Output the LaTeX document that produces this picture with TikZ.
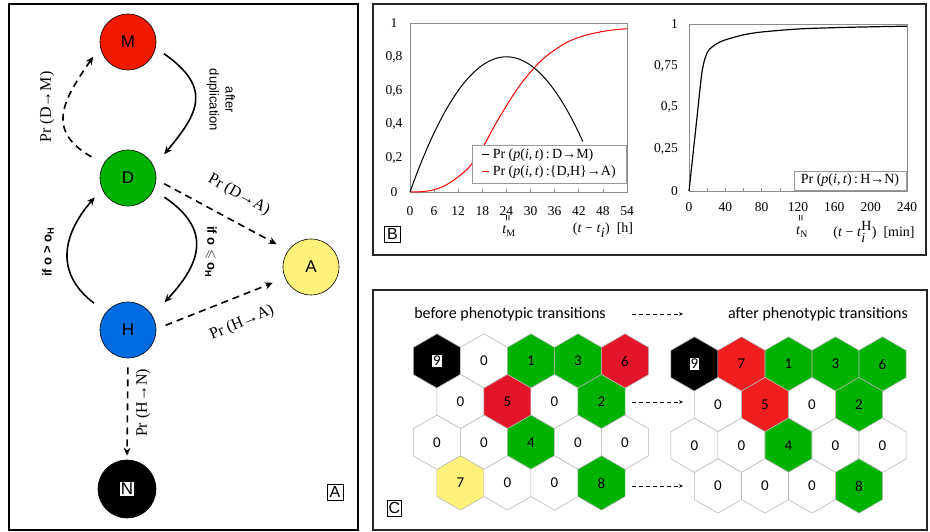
\documentclass[tikz,border=0pt]{standalone}
\usepackage{amssymb}
\usepackage{fontspec}
\setmainfont{Liberation Serif}
\newfontfamily\calib{Carlito}
\newfontfamily\arial{Liberation Sans}
\usetikzlibrary{arrows.meta}
\definecolor{mred}{RGB}{240,26,0}
\definecolor{dgreen}{RGB}{0,178,0}
\definecolor{hblue}{RGB}{0,108,224}
\definecolor{ayell}{RGB}{255,242,122}
\definecolor{credl}{RGB}{226,22,40}
\definecolor{credr}{RGB}{240,30,30}
\definecolor{hexgray}{RGB}{185,185,185}

\begin{document}
\begin{tikzpicture}[x=1pt,y=1pt,>={Stealth[length=8pt,width=7pt]},
  cell/.style={circle,draw,line width=0.6pt,minimum size=56pt,inner sep=0pt,font=\arial\fontsize{17}{19}\selectfont},
  solidarr/.style={->,line width=1.6pt},
  dasharr/.style={->,line width=1.6pt,dash pattern=on 7pt off 5pt},
  prlbl/.style={font=\fontsize{16}{18}\selectfont},
  condlbl/.style={font=\arial\bfseries\fontsize{13}{15}\selectfont},
  duplbl/.style={font=\arial\fontsize{13}{16}\selectfont,align=center},
  panel/.style={draw=black!85,line width=1.4pt},
  tag/.style={draw,line width=0.6pt,fill=white,inner sep=2.5pt,font=\arial\fontsize{16}{18}\selectfont},
  tick/.style={font=\fontsize{13.5}{15}\selectfont,inner sep=1pt},
  axlbl/.style={font=\fontsize{14}{16}\selectfont,inner sep=1pt},
  eqmark/.style={rotate=90,font=\bfseries\fontsize{12}{12}\selectfont,inner sep=0pt},
  legbox/.style={draw=black!40,line width=0.6pt,fill=white,inner sep=2pt,align=left,font=\fontsize{14}{17}\selectfont},
  hexline/.style={draw=hexgray,line width=0.6pt},
  num/.style={font=\calib\fontsize{15}{17}\selectfont,inner sep=1pt},
  numbox/.style={num,fill=white},
  ctext/.style={font=\calib\fontsize{16}{18}\selectfont},
  smallarr/.style={-{Stealth[length=4pt,width=3.5pt]},line width=0.8pt,dash pattern=on 4pt off 3pt}]
\useasboundingbox (0,0) rectangle (930,532);

% panel A
\draw[draw=black,line width=1.2pt] (9,2) rectangle (358,528);
\node[cell,fill=mred] (M) at (128,490) {M};
\node[cell,fill=dgreen] (D) at (128,354) {D};
\node[cell,fill=hblue] (H) at (128,202) {H};
\node[cell,fill=ayell] (A) at (311,265) {A};
\node[cell,fill=black,minimum size=58pt] (N) at (127,43) {\setlength{\fboxsep}{1pt}\colorbox{white}{N}};
\node[tag] (tagA) at (335,40) {A};

\draw[solidarr,shorten <=10pt,shorten >=16pt] (M.-12) to[out=-35,in=50,looseness=1.5] (D.24);
\draw[dasharr,shorten <=14pt,shorten >=12pt] (D.150) to[out=150,in=235,looseness=1.45] (M.190);
\draw[solidarr,shorten <=13pt,shorten >=18pt] (D.-25) to[out=-34,in=47,looseness=1.45] (H.31);
\draw[solidarr,shorten <=15pt,shorten >=11pt] (H.141) to[out=143,in=229,looseness=1.3] (D.203);
\draw[dasharr,shorten <=9pt,shorten >=13pt] (D.-3) -- (A.144);
\draw[dasharr,shorten <=10pt,shorten >=13pt] (H.2) -- (A.203);
\draw[dasharr,shorten <=9pt,shorten >=4pt] (H.south) -- (N.north);

\node[prlbl,rotate=90] (lDM) at (47,425) {Pr (D→M)};
\node[duplbl,rotate=-90] (ldup) at (221,432) {after\\duplication};
\node[prlbl,rotate=-29] (lDA) at (239,337) {Pr (D→A)};
\node[condlbl,rotate=-90] (lDH) at (211,280) {if o $\leqslant$ o\textsubscript{H}};
\node[condlbl,rotate=90] (lHD) at (48,280) {if o > o\textsubscript{H}};
\node[prlbl,rotate=23] (lHA) at (242,209) {Pr (H→A)};
\node[prlbl,rotate=90] (lHN) at (143,129) {Pr (H→N)};

% panel B
\draw[panel] (373,277) rectangle (926,528);
\begin{scope}[shift={(410,340)},x=4.0185pt,y=169pt]
\draw[black!45,line width=0.7pt] (0,0) rectangle (54,1);
\foreach \h in {6,12,...,48} \draw[black!45,line width=0.6pt] (\h,0) -- (\h,0.015);
\draw[red,line width=1pt] plot[smooth,tension=0.6] coordinates {(0,0) (3,0.002) (6,0.014) (9,0.042) (12,0.09) (15,0.155) (18,0.26) (21,0.39) (24,0.51) (27,0.62) (30,0.71) (33,0.785) (36,0.84) (39,0.885) (42,0.915) (45,0.935) (48,0.95) (51,0.96) (54,0.966)};
\draw[black,line width=1pt,domain=0:43,samples=60,smooth] plot (\x,{0.8*(1-((\x-24)/24)^2)});
\end{scope}
\node[legbox,minimum width=154pt,minimum height=38pt] (leg1) at (549,368) {\rule[4pt]{7pt}{1pt}\ Pr (\textit{p}(\textit{i},\,\textit{t})\,:\,D→M)\\ \textcolor{red}{\rule[4pt]{7pt}{1pt}}\ Pr (\textit{p}(\textit{i},\,\textit{t})\,:\{D,H\}→A)};
\foreach \v/\t [count=\k] in {0/0,0.2/{0,2},0.4/{0,4},0.6/{0,6},0.8/{0,8},1/1}
  \node[tick] (ya\k) at (394,340+169*\v) {\t};
\foreach \h [count=\k] in {0,6,...,54}
  \node[tick] (xa\k) at (410+4.0185*\h,321) {\h};
\node[eqmark] (eqM) at (509,314) {=};
\node[axlbl] (tM) at (509,301) {\textit{t}\textsubscript{M}};
\node[axlbl] (unitB) at (603,302) {(\textit{t} − \textit{t}$_{\textit{i}}$)\ \ [h]};

\begin{scope}[shift={(689,341)},x=0.9083pt,y=167pt]
\draw[black!45,line width=0.7pt] (0,0) rectangle (240,1);
\foreach \m in {20,40,...,220} \draw[black!45,line width=0.6pt] (\m,0) -- (\m,0.015);
\draw[black,line width=1.2pt] plot[smooth,tension=0.5] coordinates {(0,0) (8,0.4) (14,0.7) (18,0.8) (22,0.845) (30,0.88) (40,0.905) (60,0.935) (80,0.952) (120,0.97) (160,0.978) (200,0.983) (240,0.987)};
\end{scope}
\node[legbox,minimum width=112pt,minimum height=19pt] (leg2) at (850,351.5) {Pr (\textit{p}(\textit{i},\,\textit{t})\,:\,H→N)};
\foreach \v/\t [count=\k] in {0/0,0.25/{0,25},0.5/{0,5},0.75/{0,75},1/1}
  \node[tick,anchor=east] (yb\k) at (679,341+167*\v) {\t};
\foreach \m [count=\k] in {0,40,...,240}
  \node[tick] (xb\k) at (689+0.9083*\m,325) {\m};
\node[eqmark] (eqN) at (802,314) {=};
\node[axlbl] (tN) at (802,300) {\textit{t}\textsubscript{N}};
\node[axlbl] (unitN) at (874,300) {(\textit{t} − \textit{t}$_{\textit{i}}^{\textrm{H}}$)\ \ [min]};
\node[tag] (tagB) at (392.5,297.5) {B};

% panel C
\draw[panel] (373,2) rectangle (927,242);
\node[ctext] (before) at (510,218) {before phenotypic transitions};
\node[ctext] (after) at (818,218) {after phenotypic transitions};
\coordinate (r1s) at (632,218);
\coordinate (r1e) at (683,218);
\coordinate (r2s) at (632,130);
\coordinate (r2e) at (683,130);
\coordinate (r3s) at (632,46);
\coordinate (r3e) at (683,46);
\draw[smallarr] (r1s) -- (r1e);
\draw[smallarr] (r2s) -- (r2e);
\draw[smallarr] (r3s) -- (r3e);

\foreach \hx/\hy/\hc/\hn/\hs [count=\k] in {
  437/171/black/9/numbox, 484/171/white/0/num, 531/171/dgreen/1/num, 578/171/dgreen/3/num, 625/171/credl/6/num,
  460.5/130.35/white/0/num, 507.5/130.35/credl/5/num, 554.5/130.35/white/0/num, 601.5/130.35/dgreen/2/num,
  437/89.7/white/0/num, 484/89.7/white/0/num, 531/89.7/dgreen/4/num, 578/89.7/white/0/num, 625/89.7/white/0/num,
  460.5/49.05/ayell/7/num, 507.5/49.05/white/0/num, 554.5/49.05/white/0/num, 601.5/49.05/dgreen/8/num}
{
  \draw[hexline,fill=\hc] (\hx,\hy) +(90:27.2) -- +(150:27.2) -- +(210:27.2) -- +(270:27.2) -- +(330:27.2) -- +(30:27.2) -- cycle;
  \node[\hs] (L\k) at (\hx,\hy) {\hn};
}
\foreach \hx/\hy/\hc/\hn/\hs [count=\k] in {
  694.5/168/black/9/numbox, 741.5/168/credr/7/num, 788.5/168/dgreen/1/num, 835.5/168/dgreen/3/num, 882.5/168/dgreen/6/num,
  718/127.35/white/0/num, 765/127.35/credr/5/num, 812/127.35/white/0/num, 859/127.35/dgreen/2/num,
  694.5/86.7/white/0/num, 741.5/86.7/white/0/num, 788.5/86.7/dgreen/4/num, 835.5/86.7/white/0/num, 882.5/86.7/white/0/num,
  718/46.05/white/0/num, 765/46.05/white/0/num, 812/46.05/white/0/num, 859/46.05/dgreen/8/num}
{
  \draw[hexline,fill=\hc] (\hx,\hy) +(90:27.2) -- +(150:27.2) -- +(210:27.2) -- +(270:27.2) -- +(330:27.2) -- +(30:27.2) -- cycle;
  \node[\hs] (R\k) at (\hx,\hy) {\hn};
}
\node[tag,inner xsep=1.5pt] (tagC) at (394.5,24) {C};
\end{tikzpicture}
\end{document}
